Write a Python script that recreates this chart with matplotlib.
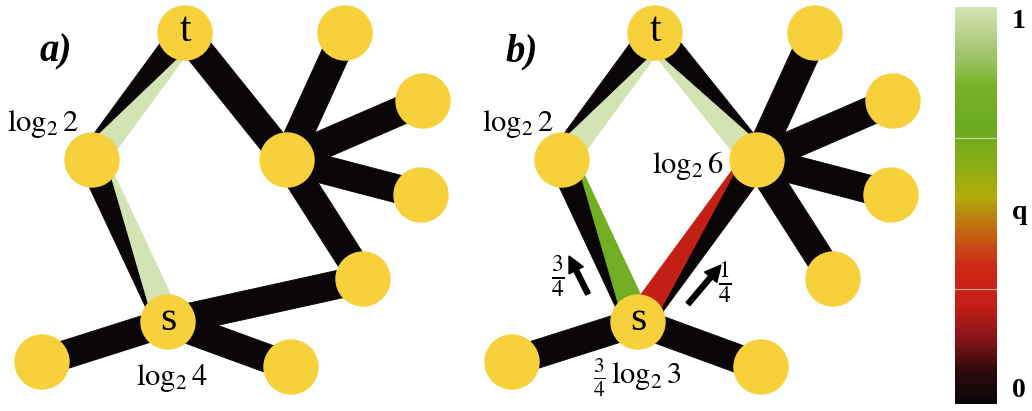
import matplotlib
matplotlib.use("Agg")
import matplotlib.pyplot as plt
import numpy as np
from matplotlib.colors import LinearSegmentedColormap
from matplotlib.patches import Polygon, Circle
from matplotlib.cm import ScalarMappable

plt.rcParams['font.family'] = 'Liberation Serif'
plt.rcParams['mathtext.fontset'] = 'stix'

# node layout in pixels (panel a), panel b is the same graph shifted right
node_names = ['t', 'tr', 'L', 'R', 'r1', 'r2', 'lr', 's', 'bl', 'br']
node_x = [185, 345, 92, 287, 423, 421, 363, 168, 42, 291]
node_y = [33, 33, 160, 160, 101, 195, 279, 322, 362, 367]
panel_shift = [0, 470]

# edges: (u, v, q of triangle based at u, q of triangle based at v, diagonal side)
edges_a = [('L', 't', 1.0, 0.0, 1), ('s', 'L', 1.0, 0.0, 1), ('t', 'R', 0.0, 0.0, 1),
           ('R', 'tr', 0.0, 0.0, 1), ('R', 'r1', 0.0, 0.0, 1), ('R', 'r2', 0.0, 0.0, 1),
           ('R', 'lr', 0.0, 0.0, 1), ('lr', 's', 0.0, 0.0, 1), ('s', 'bl', 0.0, 0.0, 1),
           ('s', 'br', 0.0, 0.0, 1)]
edges_b = [('L', 't', 1.0, 0.0, 1), ('R', 't', 1.0, 0.0, -1), ('s', 'L', 0.75, 0.0, 1),
           ('s', 'R', 0.25, 0.0, -1), ('R', 'tr', 0.0, 0.0, 1), ('R', 'r1', 0.0, 0.0, 1),
           ('R', 'r2', 0.0, 0.0, 1), ('R', 'lr', 0.0, 0.0, 1), ('s', 'bl', 0.0, 0.0, 1),
           ('s', 'br', 0.0, 0.0, 1)]

node_labels = {'t': 't', 's': 's'}
panel_titles = ['a)', 'b)']
labels_a = [(r'$\log_2 2$', 7, 131), (r'$\log_2 4$', 136, 385)]
labels_b = [(r'$\log_2 2$', 482, 131), (r'$\log_2 6$', 652, 173),
            (r'$\frac{3}{4}\,\log_2 3$', 593, 385)]
# arrows (tail, head) and fraction labels for panel b
arrows_b = [((588, 294), (569, 256)), ((688, 304), (721, 265))]
frac_b = [(r'$\frac{3}{4}$', 558, 277), (r'$\frac{1}{4}$', 725, 282)]

# colormap 0 (black) -> red -> olive -> green -> pale green (1)
cmap_q = [0.0, 0.08, 0.17, 0.25, 0.35, 0.44, 0.52, 0.60, 0.70, 0.80, 0.90, 1.0]
cmap_c = ['#0a0608', '#2c0a0d', '#8e151a', '#c41f17', '#cc2a16', '#c46812',
          '#b2ac0a', '#8aae14', '#6aaa1e', '#78b22a', '#aac878', '#d4e3b3']
cmap = LinearSegmentedColormap.from_list('q', list(zip(cmap_q, cmap_c)))

node_color = '#f7d13c'
half_w = 14
radius = 27

fig = plt.figure(figsize=(10.32, 4.11), dpi=100)
ax = fig.add_axes([0, 0, 1, 1])
ax.set_xlim(0, 1032)
ax.set_ylim(411, 0)
ax.axis('off')

idx = {n: i for i, n in enumerate(node_names)}

for shift, edges in zip(panel_shift, [edges_a, edges_b]):
    for u, v, qu, qv, d in edges:
        p = np.array([node_x[idx[u]] + shift, node_y[idx[u]]], float)
        q = np.array([node_x[idx[v]] + shift, node_y[idx[v]]], float)
        t = (q - p) / np.linalg.norm(q - p)
        n = np.array([-t[1], t[0]])
        tri_u = [p + half_w * n, p - half_w * n, q + d * half_w * n]
        tri_v = [q + half_w * n, q - half_w * n, p - d * half_w * n]
        for tri, val in [(tri_v, qv), (tri_u, qu)]:
            c = cmap(float(val))
            ax.add_patch(Polygon(tri, closed=True, facecolor=c, edgecolor=c,
                                 lw=0.6, zorder=1 + (val > 0)))
    for name, x, y in zip(node_names, node_x, node_y):
        ax.add_patch(Circle((x + shift, y), radius, color=node_color, zorder=3))
        if name in node_labels:
            ax.text(x + shift, y - 2, node_labels[name], fontsize=30,
                    ha='center', va='center', zorder=4)

for title, shift in zip(panel_titles, panel_shift):
    ax.text(56 + shift - (4 if shift else 0), 52, title, fontsize=28,
            fontweight='bold', fontstyle='italic', ha='center', va='center')

for txt, x, y in labels_a + labels_b:
    ax.text(x, y, txt, fontsize=22, ha='left', va='baseline', zorder=5)

for (x0, y0), (x1, y1) in arrows_b:
    ax.arrow(x0, y0, x1 - x0, y1 - y0, width=5, head_width=16,
             head_length=16, length_includes_head=True, color='black', zorder=5)
for txt, x, y in frac_b:
    ax.text(x, y, txt, fontsize=24, ha='center', va='center', zorder=5)

# colorbar
cax = fig.add_axes([955 / 1032, 7 / 411, 42 / 1032, 397 / 411])
cb = fig.colorbar(ScalarMappable(cmap=cmap), cax=cax, ticks=[])
cb.outline.set_visible(False)
for yq in [0.29, 0.67]:
    cax.axhline(yq, color='white', lw=0.8, alpha=0.6)
for txt, yy in zip(['1', 'q', '0'], [22, 212, 390]):
    fig.text(1012 / 1032, 1 - yy / 411, txt, fontsize=20, fontweight='bold',
             ha='left', va='center')

fig.savefig('out.png', dpi=100)
